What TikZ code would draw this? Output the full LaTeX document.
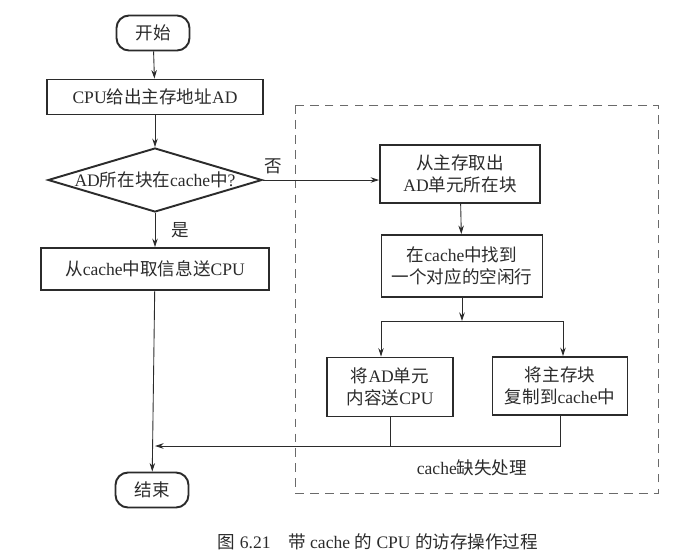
\documentclass[tikz,border=0pt]{standalone}
\usepackage{fontspec}
\setmainfont{Liberation Serif}
\newfontfamily\cjk{Noto Sans CJK SC}
\newcommand{\zh}[1]{{\cjk #1}}
\newcommand{\flowfont}{\fontsize{10}{12.5}\selectfont}
\usetikzlibrary{shapes.geometric, arrows.meta, positioning}
\usepackage{xcolor}
\definecolor{inkgrey}{HTML}{2b2b2b}
\definecolor{framegrey}{HTML}{6a6a6a}
\tikzset{
  termbox/.style={rectangle, draw=inkgrey, line width=1.1pt, rounded corners=0.25cm,
                  minimum width=1.46cm, minimum height=0.7cm, align=center,
                  font=\flowfont, text=inkgrey},
  procbox/.style={rectangle, draw=inkgrey, line width=1.1pt, inner sep=0pt,
                  align=center, font=\flowfont, text=inkgrey},
  decbox/.style={diamond, draw=inkgrey, line width=1.1pt, inner sep=0pt,
                 minimum width=4.28cm, minimum height=1.28cm},
  flow/.style={-{Stealth[length=1.7mm,width=1.1mm]}, draw=inkgrey, line width=0.5pt},
  plain/.style={draw=inkgrey, line width=0.5pt},
  missframe/.style={draw=framegrey, line width=0.5pt, dash pattern=on 5pt off 3.5pt},
  flowlab/.style={font=\flowfont, text=inkgrey},
}

\begin{document}
\begin{tikzpicture}[x=0.02cm, y=-0.02cm]
  \useasboundingbox (0,0) rectangle (700,559);

  % --- main column ---
  \node[termbox] (start) at (153,33) {\zh{开始}};
  \node[procbox, minimum width=4.32cm, minimum height=0.7cm] (addr) at (155,97)
    {CPU\zh{给出主存地址}AD};
  \node[decbox, label={[flowlab]center:{AD\zh{所在块在}cache\zh{中}?}}] (hitq) at (155,180) {};
  \node[procbox, minimum width=4.56cm, minimum height=0.84cm] (hit) at (155,269)
    {\zh{从}cache\zh{中取信息送}CPU};
  \node[termbox] (stop) at (152,490) {\zh{结束}};

  % --- cache miss handling ---
  \draw[missframe] (295,105) rectangle (658,493);
  \node[procbox, minimum width=3.2cm, minimum height=1.16cm] (fetch) at (460,174)
    {\zh{从主存取出}\\AD\zh{单元所在块}};
  \node[procbox, minimum width=3.22cm, minimum height=1.24cm] (find) at (462,266)
    {\zh{在}cache\zh{中找到}\\\zh{一个对应的空闲行}};
  \node[procbox, minimum width=2.52cm, minimum height=1.18cm] (send) at (390,387)
    {\zh{将}AD\zh{单元}\\\zh{内容送}CPU};
  \node[procbox, minimum width=2.7cm, minimum height=1.16cm] (copy) at (560,386)
    {\zh{将主存块}\\\zh{复制到}cache\zh{中}};
  \node[flowlab] (misslab) at (472,468) {cache\zh{缺失处理}};

  \coordinate (brL) at (381,321);
  \coordinate (brR) at (563,321);
  \coordinate (join) at (155,446);

  % --- connectors ---
  \draw[flow] (start) -- (addr);
  \draw[flow] (addr) -- (hitq);
  \draw[flow] (hitq) -- node[flowlab, midway, right=0.2cm]{\zh{是}} (hit);
  \draw[flow] (hitq.east) -- node[flowlab, pos=0.09, above]{\zh{否}} (hitq.east -| fetch.west);
  \draw[flow] (hit) -- (stop);
  \draw[flow] (fetch) -- (find);
  \draw[flow] (find) -- (find.south |- brL);
  \draw[plain] (brL) -- (brR);
  \draw[flow] (brL) -- (brL |- send.north);
  \draw[flow] (brR) -- (brR |- copy.north);
  \draw[plain] (send.south) -- (send.south |- join);
  \draw[flow] (copy.south) |- (join);

  % caption
  \node[flowlab] (caption) at (378,542)
    {\zh{图} 6.21\quad\zh{带} cache \zh{的} CPU \zh{的访存操作过程}};

\end{tikzpicture}
\end{document}
